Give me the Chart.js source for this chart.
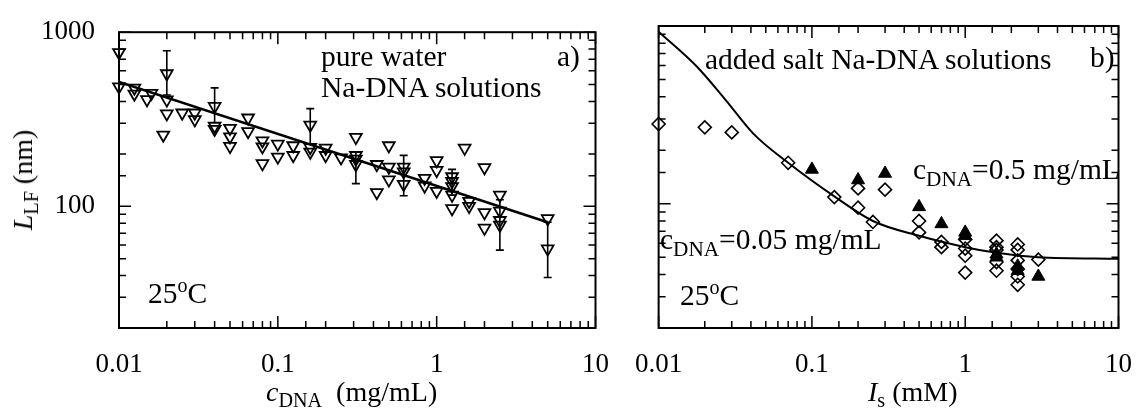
<!DOCTYPE html>
<html>
<head>
<meta charset="utf-8">
<script src="https://cdn.jsdelivr.net/npm/chart.js@4.4.0/dist/chart.umd.min.js"></script>
<style>
  body { margin: 0; background: #fff; }
  #wrap { position: relative; width: 1145px; height: 412px; overflow: hidden;
          font-family: "Liberation Serif", "Times New Roman", serif; color: #000; }
  canvas { position: absolute; top: 0; }
  .t { position: absolute; white-space: nowrap; line-height: 1; font-size: 28px; }
  .big { font-size: 29.5px; }
  .t sub { font-size: 0.72em; vertical-align: -0.32em; line-height: 0; }
  .t sup { font-size: 0.68em; vertical-align: 0.55em; line-height: 0; }
  .rot { transform: translate(-50%, -50%) rotate(-90deg); }
</style>
</head>
<body>
<div id="wrap">
  <canvas id="panelA" width="622" height="412" style="left:0"></canvas>
  <canvas id="panelB" width="523" height="412" style="left:622px"></canvas>

  <div class="t big" style="left:321px; top:42px">pure water</div>
  <div class="t big" style="left:321px; top:73px">Na-DNA solutions</div>
  <div class="t big" style="left:557px; top:42px">a)</div>
  <div class="t big" style="left:148px; top:279px">25<sup>o</sup>C</div>

  <div class="t big" style="left:705px; top:45px">added salt Na-DNA solutions</div>
  <div class="t big" style="left:1090px; top:43px">b)</div>
  <div class="t big" style="left:913px; top:155px">c<sub>DNA</sub>=0.5 mg/mL</div>
  <div class="t big" style="left:660px; top:225px">c<sub>DNA</sub>=0.05 mg/mL</div>
  <div class="t big" style="left:680px; top:281px">25<sup>o</sup>C</div>

  <div class="t rot" style="left:23px; top:180px"><i>L</i><sub>LF</sub> (nm)</div>
  <div class="t" style="left:266px; top:378px"><i>c</i><sub>DNA</sub>&nbsp; (mg/mL)</div>
  <div class="t" style="left:868px; top:378px"><i>I</i><sub>s</sub> (mM)</div>
</div>

<script>
// panel a) pure water Na-DNA solutions: c_DNA (mg/mL) vs L_LF (nm)
const cWater = [0.01, 0.01, 0.0125, 0.0125, 0.015, 0.016, 0.02, 0.02, 0.02, 0.019,
  0.025, 0.03, 0.03, 0.04, 0.04, 0.04, 0.05, 0.05, 0.05, 0.065, 0.065,
  0.08, 0.08, 0.08, 0.1, 0.1, 0.125, 0.125, 0.16, 0.16, 0.16, 0.2, 0.2, 0.25,
  0.31, 0.31, 0.31, 0.31, 0.42, 0.42, 0.5, 0.5, 0.5, 0.62, 0.62, 0.62, 0.84, 0.84,
  1, 1, 1, 1.25, 1.25, 1.25, 1.25, 1.25, 1.5, 1.6, 1.6, 2, 2, 2,
  2.5, 2.5, 2.5, 2.5, 5, 5];
const lWater = [765, 486, 478, 442, 410, 446, 578, 409, 340, 257,
  344, 344, 315, 375, 289, 277, 281, 251, 221, 322, 269,
  238, 220, 176, 228, 192, 223, 196, 293, 218, 205, 216, 196, 190,
  249, 196, 187, 174, 174, 120, 223, 168, 142, 168, 158, 134, 145, 131,
  183, 161, 122, 148, 139, 130, 116, 97, 216, 107, 100, 167, 92, 75,
  116, 94, 83, 78, 85, 57];

// error bars of panel a)
const errC  = [0.02, 0.04, 0.16, 0.31, 0.62, 1.25, 2.5, 5];
const errLo = [436, 302, 228, 135, 115, 116, 56, 39];
const errHi = [782, 479, 364, 205, 196, 163, 109, 81];

// power law fit in panel a)
const fitC = [0.01, 5];
const fitL = [518, 81];

// panel b) added salt: I_s (mM) vs L_LF (nm)
// c_DNA = 0.05 mg/mL (open diamonds)
const iLow = [0.01, 0.02, 0.03, 0.07, 0.14, 0.2, 0.2, 0.25, 0.3, 0.5, 0.5, 0.7, 0.7,
  1, 1, 1, 1, 1.6, 1.6, 1.6, 1.6, 1.6, 2.2, 2.2, 2.2, 2.2, 2.2, 2.2, 3];
const lLow = [281, 269, 252, 170, 109, 122, 95, 79, 120, 80, 69, 61, 57,
  63, 56, 51, 41, 62, 57, 55, 47, 42, 59, 55, 48, 43, 39, 35, 48.5];
// c_DNA = 0.5 mg/mL (filled triangles)
const iHigh = [0.1, 0.2, 0.3, 0.5, 0.7, 1, 1, 1.6, 1.6, 2.2, 2.2, 3];
const lHigh = [156, 136, 148, 96, 77, 69, 66, 52, 50, 44.5, 42, 39];

// theory curve in panel b)
const curveI = [0.01, 0.0178, 0.0274, 0.0413, 0.07, 0.14, 0.25, 0.5, 1, 1.6, 3, 10];
const curveL = [929, 590, 383, 249, 170, 110, 80, 66, 57, 53, 50, 49];

// tick labels
const xTickVals = [0.01, 0.1, 1, 10];
const xTickText = ['0.01', '0.1', '1', '10'];
const yTickVals = [100, 1000];
const yTickText = ['100', '1000'];

const family = '"Liberation Serif", "Times New Roman", serif';

function isDecade(v) {
  const l = Math.log10(v);
  return Math.abs(l - Math.round(l)) < 1e-6;
}
function labelFor(vals, texts) {
  return v => {
    const i = vals.findIndex(t => Math.abs(Math.log10(t) - Math.log10(v)) < 1e-6);
    return i < 0 ? '' : texts[i];
  };
}
function pts(xs, ys) {
  return xs.map((x, i) => ({ x: x, y: ys[i] }));
}

// box around the plot with inward ticks on all four sides
const frameTicks = {
  id: 'frameTicks',
  afterDraw(chart) {
    const { ctx, chartArea: a } = chart;
    const sx = chart.scales.x, sy = chart.scales.y;
    ctx.save();
    ctx.strokeStyle = '#000';
    ctx.lineWidth = 2;
    ctx.strokeRect(a.left, a.top, a.right - a.left, a.bottom - a.top);
    ctx.lineWidth = 1.5;
    ctx.beginPath();
    sx.ticks.forEach(t => {
      const p = sx.getPixelForValue(t.value);
      const len = isDecade(t.value) ? 12 : 7;
      ctx.moveTo(p, a.bottom); ctx.lineTo(p, a.bottom - len);
      ctx.moveTo(p, a.top); ctx.lineTo(p, a.top + len);
    });
    sy.ticks.forEach(t => {
      const p = sy.getPixelForValue(t.value);
      const len = isDecade(t.value) ? 12 : 7;
      ctx.moveTo(a.left, p); ctx.lineTo(a.left + len, p);
      ctx.moveTo(a.right, p); ctx.lineTo(a.right - len, p);
    });
    ctx.stroke();
    ctx.restore();
  }
};

const errorBars = {
  id: 'errorBars',
  afterDatasetsDraw(chart, args, opts) {
    if (!opts || !opts.x) return;
    const { ctx } = chart;
    const sx = chart.scales.x, sy = chart.scales.y;
    ctx.save();
    ctx.strokeStyle = '#000';
    ctx.lineWidth = 1.6;
    ctx.beginPath();
    opts.x.forEach((x, i) => {
      const px = sx.getPixelForValue(x);
      const lo = sy.getPixelForValue(opts.lo[i]);
      const hi = sy.getPixelForValue(opts.hi[i]);
      ctx.moveTo(px, lo); ctx.lineTo(px, hi);
      ctx.moveTo(px - 4, lo); ctx.lineTo(px + 4, lo);
      ctx.moveTo(px - 4, hi); ctx.lineTo(px + 4, hi);
    });
    ctx.stroke();
    ctx.restore();
  }
};

function axes(showY) {
  return {
    x: {
      type: 'logarithmic', min: 0.01, max: 10,
      afterFit: s => { s.height = 84; },
      grid: { display: false }, border: { display: false },
      ticks: { autoSkip: false, maxRotation: 0, padding: 13, color: '#000',
               font: { family: family, size: 27 },
               callback: labelFor(xTickVals, xTickText) }
    },
    y: {
      type: 'logarithmic', min: 20, max: 1000,
      afterFit: s => { s.width = showY ? 119 : 28; },
      grid: { display: false }, border: { display: false },
      ticks: { display: showY, autoSkip: false, padding: 16, color: '#000',
               font: { family: family, size: 27 },
               callback: labelFor(yTickVals, yTickText) }
    }
  };
}

new Chart(document.getElementById('panelA'), {
  type: 'scatter',
  data: {
    datasets: [
      { data: pts(cWater, lWater), pointStyle: 'triangle', pointRotation: 180,
        pointRadius: 6.8, pointBorderColor: '#000', pointBorderWidth: 1.8,
        pointBackgroundColor: 'rgba(0,0,0,0)', clip: false },
      { data: pts(fitC, fitL), showLine: true, borderColor: '#000', borderWidth: 2.7,
        pointRadius: 0 }
    ]
  },
  options: {
    responsive: false, animation: false, events: [],
    layout: { padding: { top: 26, right: 25, left: 0, bottom: 0 } },
    plugins: { legend: { display: false }, tooltip: { enabled: false },
               errorBars: { x: errC, lo: errLo, hi: errHi } },
    scales: axes(true)
  },
  plugins: [frameTicks, errorBars]
});

new Chart(document.getElementById('panelB'), {
  type: 'scatter',
  data: {
    datasets: [
      { data: pts(iHigh, lHigh), pointStyle: 'triangle', pointRadius: 7.5,
        pointBorderColor: '#000', pointBorderWidth: 1, pointBackgroundColor: '#000',
        clip: false },
      { data: pts(iLow, lLow), pointStyle: 'rectRot', pointRadius: 6.5,
        pointBorderColor: '#000', pointBorderWidth: 1.6,
        pointBackgroundColor: 'rgba(0,0,0,0)', clip: false },
      { data: pts(curveI, curveL), showLine: true, borderColor: '#000', borderWidth: 2,
        cubicInterpolationMode: 'monotone', pointRadius: 0 }
    ]
  },
  options: {
    responsive: false, animation: false, events: [],
    layout: { padding: { top: 26, right: 16, left: 0, bottom: 0 } },
    plugins: { legend: { display: false }, tooltip: { enabled: false } },
    scales: axes(false)
  },
  plugins: [frameTicks]
});
</script>
</body>
</html>
